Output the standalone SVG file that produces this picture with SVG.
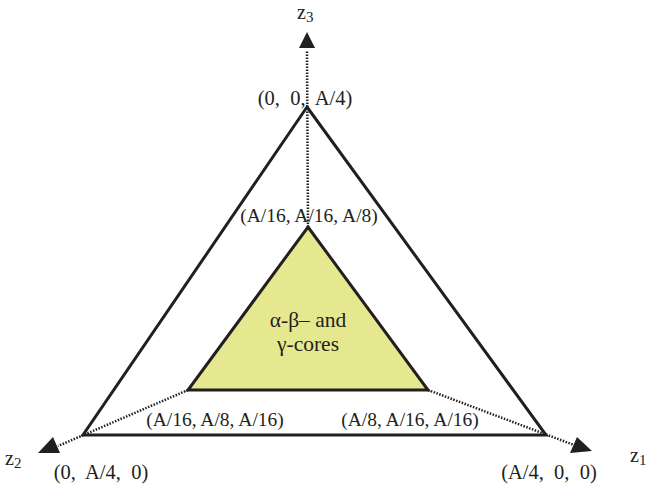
<svg xmlns="http://www.w3.org/2000/svg" width="647" height="489" viewBox="0 0 647 489">
<style>
text{font-family:"Liberation Serif","Times New Roman",serif;fill:#231f20}
.lab{font-size:19.5px;text-anchor:middle}
.core{font-size:21.5px;text-anchor:middle}
.big{font-size:20.5px;text-anchor:middle}
.ax{font-size:20px}
.sub{font-size:15px}
.edge{fill:none;stroke:#231f20;stroke-width:3}
.dot{fill:none;stroke:#231f20;stroke-width:2.5;stroke-dasharray:1.5 1.5}
</style>
<g id="outer">
<path class="edge" d="M307,107 L546,435 L83,435 Z"/>
</g>
<g id="inner">
<path d="M308,227 L428,390 L188,390 Z" fill="#e5e88f" stroke="#231f20" stroke-width="3"/>
<text class="core" x="308" y="327">α-β– and</text>
<text class="core" x="308" y="351">γ-cores</text>
</g>
<g id="connectors">
<line class="dot" x1="308" y1="227" x2="307" y2="50"/>
<line class="dot" x1="188" y1="390" x2="58" y2="446"/>
<line class="dot" x1="428" y1="390" x2="574" y2="445"/>
<path d="M307,32 L315,48 L299,48 Z" fill="#231f20"/>
<path d="M38,453 L53,437 L60,453 Z" fill="#231f20"/>
<path d="M592,451 L570,453 L577,437 Z" fill="#231f20"/>
</g>
<g id="labels">
<text class="big" x="305" y="105" xml:space="preserve">(0,  0,  A/4)</text>
<text class="lab" x="309" y="222" xml:space="preserve">(A/16, A/16, A/8)</text>
<text class="lab" x="215" y="426" xml:space="preserve">(A/16, A/8, A/16)</text>
<text class="lab" x="410" y="426" xml:space="preserve">(A/8, A/16, A/16)</text>
<text class="big" x="101" y="479" xml:space="preserve">(0,  A/4,  0)</text>
<text class="big" x="549" y="479" xml:space="preserve">(A/4,  0,  0)</text>
<text class="ax" x="297" y="19">z<tspan class="sub" dy="3">3</tspan></text>
<text class="ax" x="5" y="465">z<tspan class="sub" dy="3">2</tspan></text>
<text class="ax" x="630" y="462">z<tspan class="sub" dy="3">1</tspan></text>
</g>
</svg>
